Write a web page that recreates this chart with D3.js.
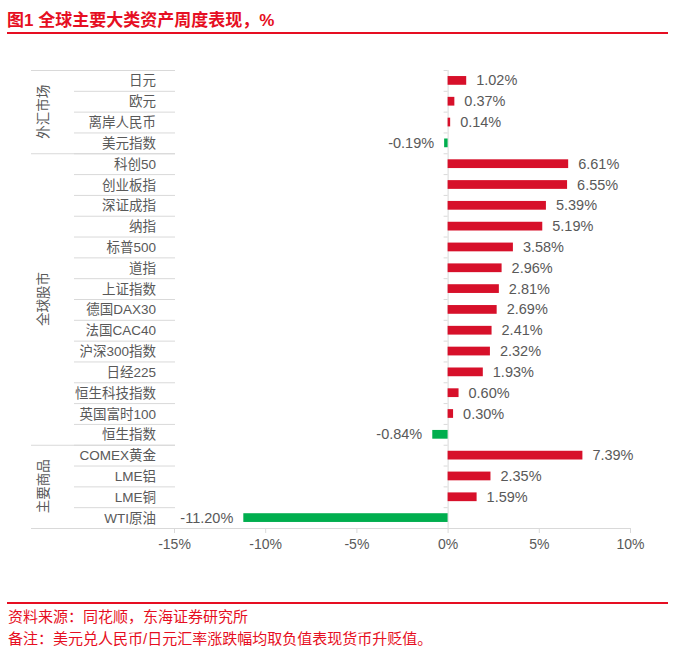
<!DOCTYPE html>
<html>
<head>
<meta charset="utf-8">
<title>全球主要大类资产周度表现</title>
<style>
  body { margin: 0; background: #fff; }
  text { font-family: "Liberation Sans", Arial, "Noto Sans CJK SC", sans-serif; }
</style>
</head>
<body>
<script src="https://cdn.jsdelivr.net/npm/d3@7/dist/d3.min.js"></script>
<script>
// categories top to bottom, with their group
var assets = ["日元", "欧元", "离岸人民币", "美元指数",
  "科创50", "创业板指", "深证成指", "纳指", "标普500", "道指", "上证指数", "德国DAX30",
  "法国CAC40", "沪深300指数", "日经225", "恒生科技指数", "英国富时100", "恒生指数",
  "COMEX黄金", "LME铝", "LME铜", "WTI原油"];
var changes = [1.02, 0.37, 0.14, -0.19,
  6.61, 6.55, 5.39, 5.19, 3.58, 2.96, 2.81, 2.69,
  2.41, 2.32, 1.93, 0.60, 0.30, -0.84,
  7.39, 2.35, 1.59, -11.20];
var groups = ["外汇市场", "全球股市", "主要商品"];
var groupSizes = [4, 14, 4];
var xTicks = [-15, -10, -5, 0, 5, 10];

var W = 687, H = 651;
var red = "#D7102A", green = "#00AE4E", gray = "#595959", lineGray = "#D9D9D9";
var cjk = "'Noto Sans CJK SC', sans-serif";

var svg = d3.select("body").append("svg")
    .attr("width", W).attr("height", H);

// title + rules
svg.append("text")
    .attr("x", 7).attr("y", 26)
    .attr("fill", "#E60E22")
    .attr("font-size", "17px").attr("font-weight", "bold")
    .attr("font-family", cjk)
    .text("图1  全球主要大类资产周度表现，%");
svg.append("rect").attr("x", 7).attr("y", 32).attr("width", 661).attr("height", 2).attr("fill", "#E60E22");
svg.append("rect").attr("x", 7).attr("y", 602).attr("width", 661).attr("height", 2).attr("fill", "#E60E22");

svg.append("text").attr("x", 8).attr("y", 622)
    .attr("fill", "#E60E22").attr("font-size", "15px")
    .attr("font-family", cjk)
    .text("资料来源：同花顺，东海证券研究所");
svg.append("text").attr("x", 8).attr("y", 644)
    .attr("fill", "#E60E22").attr("font-size", "15px")
    .attr("font-family", cjk)
    .text("备注：美元兑人民币/日元汇率涨跌幅均取负值表现货币升贬值。");

// scales
var x = d3.scaleLinear().domain([-15, 10]).range([174, 630]);
var y = d3.scaleBand().domain(assets).range([70, 528]).paddingInner(0.58).paddingOuter(0.29);
var band = d3.scaleBand().domain(assets).range([70, 528]);

// left table
var tableL = 31, subL = 74, tableR = 175;
svg.selectAll(".rowline")
    .data(assets.slice(1))
    .enter().append("line")
    .attr("x1", subL).attr("x2", tableR)
    .attr("y1", function (d) { return band(d) + 0.5; })
    .attr("y2", function (d) { return band(d) + 0.5; })
    .attr("stroke", lineGray).attr("stroke-width", 1);

var start = 0, groupInfo = [];
groups.forEach(function (g, i) {
  groupInfo.push({ name: g, first: assets[start], last: assets[start + groupSizes[i] - 1] });
  start += groupSizes[i];
});
svg.selectAll(".groupline")
    .data(groupInfo)
    .enter().append("line")
    .attr("x1", tableL).attr("x2", tableR)
    .attr("y1", function (d) { return band(d.first) + 0.5; })
    .attr("y2", function (d) { return band(d.first) + 0.5; })
    .attr("stroke", lineGray).attr("stroke-width", 1.2);

svg.selectAll(".grouplabel")
    .data(groupInfo)
    .enter().append("text")
    .attr("transform", function (d) {
      var cy = (band(d.first) + band(d.last) + band.bandwidth()) / 2;
      return "translate(48," + cy + ") rotate(-90)";
    })
    .attr("text-anchor", "middle")
    .attr("fill", gray).attr("font-size", "13.5px")
    .attr("font-family", cjk)
    .text(function (d) { return d.name; });

svg.selectAll(".catlabel")
    .data(assets)
    .enter().append("text")
    .attr("x", 156)
    .attr("y", function (d) { return band(d) + band.bandwidth() / 2 + 5; })
    .attr("text-anchor", "end")
    .attr("fill", gray).attr("font-size", "13.5px")
    .text(function (d) { return d; });

// zero axis with ticks between categories
svg.append("line")
    .attr("x1", x(0) + 0.5).attr("x2", x(0) + 0.5)
    .attr("y1", 70).attr("y2", 528)
    .attr("stroke", lineGray);
svg.selectAll(".ztick")
    .data(assets)
    .enter().append("line")
    .attr("x1", x(0) - 4).attr("x2", x(0))
    .attr("y1", function (d) { return band(d) + 0.5; })
    .attr("y2", function (d) { return band(d) + 0.5; })
    .attr("stroke", lineGray);

// bottom axis
svg.append("line")
    .attr("x1", tableL).attr("x2", 630.5)
    .attr("y1", 528.5).attr("y2", 528.5)
    .attr("stroke", lineGray).attr("stroke-width", 1.2);
var xAxis = svg.append("g")
    .attr("transform", "translate(0,528)")
    .call(d3.axisBottom(x).tickValues(xTicks).tickSize(5).tickPadding(6)
      .tickFormat(function (d) { return d + "%"; }));
xAxis.select(".domain").remove();
xAxis.selectAll("line").attr("stroke", lineGray);
xAxis.selectAll("text").attr("fill", gray).attr("font-size", "14px")
    .attr("font-family", "'Liberation Sans', Arial, sans-serif");

// bars
svg.selectAll(".bar")
    .data(assets)
    .enter().append("rect")
    .attr("x", function (d, i) { return x(Math.min(0, changes[i])); })
    .attr("y", function (d) { return y(d); })
    .attr("width", function (d, i) { return Math.abs(x(changes[i]) - x(0)); })
    .attr("height", y.bandwidth())
    .attr("fill", function (d, i) { return changes[i] < 0 ? green : red; });

svg.selectAll(".val")
    .data(assets)
    .enter().append("text")
    .attr("x", function (d, i) { return changes[i] < 0 ? x(changes[i]) - 10 : x(changes[i]) + 10; })
    .attr("y", function (d) { return band(d) + band.bandwidth() / 2 + 5; })
    .attr("text-anchor", function (d, i) { return changes[i] < 0 ? "end" : "start"; })
    .attr("fill", gray).attr("font-size", "14.5px")
    .text(function (d, i) { return changes[i].toFixed(2) + "%"; });
</script>
</body>
</html>
